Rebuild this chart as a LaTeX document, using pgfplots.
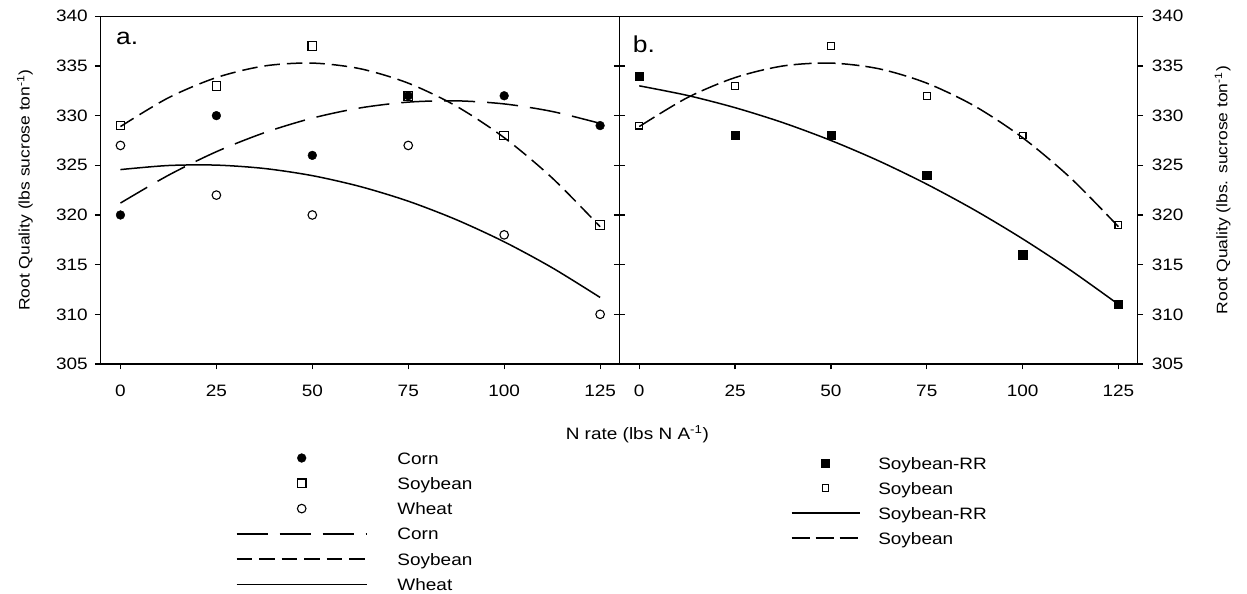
\documentclass[border=0pt]{standalone}
\usepackage{fontspec}
\setmainfont{Liberation Sans}[FakeStretch=1.15]
\usepackage{pgfplots}
\pgfplotsset{compat=1.18}
\newcommand\chartfont{\fontsize{16.5pt}{19pt}\selectfont}
\newcommand\ylabfont{\fontsize{15.2pt}{18pt}\selectfont}
\newcommand\panelfont{\fontsize{23pt}{26pt}\selectfont}
\pgfplotsset{
  base/.style={
    scale only axis, width=518.8pt, height=347.7pt,
    xmin=-5.2, xmax=130, ymin=305, ymax=340,
    xtick={0,25,50,75,100,125}, ytick={305,310,...,340},
    tick align=outside, major tick length=5.5pt,
    xtick pos=bottom,
    axis line style={line width=1.2pt},
    every tick/.style={line width=1.2pt, black},
    tick label style={font=\chartfont},
    label style={font=\chartfont},
    ylabel style={font=\ylabfont},
    /pgf/number format/assume math mode=true,
    xticklabel style={inner sep=0pt, yshift=-15pt},
    clip=false,
    legend cell align=left,
  },
  lw/.style={line width=1.5pt, smooth, no marks},
  lineA/.style={legend image code/.code={\draw[##1] (0pt,0pt) -- (130pt,0pt);}},
  markA/.style={legend image code/.code={\path[draw=none] (0pt,0pt) -- (130pt,0pt); \draw[##1] plot coordinates {(65pt,0pt)};}},
  lineB/.style={legend image code/.code={\draw[##1] (0pt,0pt) -- (68pt,0pt);}},
  markB/.style={legend image code/.code={\path[draw=none] (0pt,0pt) -- (68pt,0pt); \draw[##1] plot coordinates {(34pt,0pt)};}},
}
\begin{document}
\begin{tikzpicture}[x=1pt,y=1pt]
\useasboundingbox (0,0) rectangle (1247,594);
% ---------------- panel a ----------------
\begin{axis}[base, at={(100.5pt,230pt)}, anchor=south west,
  ytick pos=both, yticklabel pos=left,
  yticklabel style={inner sep=0pt, xshift=-7pt},
  ylabel={Root Quality (lbs sucrose ton\textsuperscript{-1})},
  ylabel style={at={(axis description cs:-0.1455,0.5)}, rotate=0, anchor=center},
  xlabel={N rate (lbs N A\textsuperscript{-1})},
  xlabel style={at={(axis description cs:1.0347,-0.2013)}, anchor=center},
  legend style={at={(axis description cs:0.2611,-0.2531)}, anchor=north west,
     draw=none, fill=none, inner sep=0pt, outer sep=0pt, row sep=13.3pt,
     nodes={inner sep=0pt, text height=12pt, text depth=0pt, font=\chartfont},
     /tikz/every odd column/.append style={column sep=30pt}},
]
\addplot[only marks, mark=*, mark size=4.4pt, black, markA] coordinates {
 (0,320) (25,330) (50,326) (75,332) (100,332) (125,329)};
\addlegendentry{Corn}
\addplot[only marks, mark=square, mark size=4.3pt, black, line width=1.1pt, markA] coordinates {
 (0,329) (25,333) (50,337) (75,332) (100,328) (125,319)};
\addlegendentry{Soybean}
\addplot[only marks, mark=o, mark size=4.3pt, black, line width=1.1pt, markA] coordinates {
 (0,327) (25,322) (50,320) (75,327) (100,318) (125,310)};
\addlegendentry{Wheat}
\addplot[lw, dash pattern=on 31pt off 12pt, lineA] coordinates {
 (0,321.2) (12.5,324.0) (25,326.37) (37.5,328.28) (50,329.75) (62.5,330.78)
 (75,331.36) (87.5,331.49) (100,331.18) (112.5,330.42) (125,329.22)};
\addlegendentry{Corn}
\addplot[lw, dash pattern=on 15.5pt off 7pt, lineA] coordinates {
 (0,328.9) (12.5,331.8) (25,333.83) (37.5,335.0) (50,335.29) (62.5,334.72)
 (75,333.27) (87.5,330.96) (100,327.78) (112.5,323.73) (125,318.82)};
\addlegendentry{Soybean}
\addplot[lw, lineA] coordinates {
 (0,324.57) (12.5,324.98) (25,325.02) (37.5,324.68) (50,323.96) (62.5,322.86)
 (75,321.39) (87.5,319.53) (100,317.30) (112.5,314.69) (125,311.70)};
\addlegendentry{Wheat}
\node[font=\panelfont, anchor=base west, inner sep=0pt] at (axis description cs:0.0299,0.9175) {a.};
\end{axis}
% ---------------- panel b ----------------
\begin{axis}[base, width=518.3pt, at={(619.3pt,230pt)}, anchor=south west,
  ytick pos=both, yticklabel pos=right,
  yticklabel style={inner sep=0pt, xshift=8.5pt},
  ylabel={Root Quality (lbs. sucrose ton\textsuperscript{-1})},
  ylabel style={at={(axis description cs:1.164,0.5)}, rotate=0, anchor=center},
  legend style={at={(axis description cs:0.3308,-0.2675)}, anchor=north west,
     draw=none, fill=none, inner sep=0pt, outer sep=0pt, row sep=13pt,
     nodes={inner sep=0pt, text height=12pt, text depth=0pt, font=\chartfont},
     /tikz/every odd column/.append style={column sep=18pt}},
]
\addplot[only marks, mark=square*, mark size=4.1pt, black, markB] coordinates {
 (0,334) (25,328) (50,328) (75,324) (100,316) (125,311)};
\addlegendentry{Soybean-RR}
\addplot[only marks, mark=square, mark size=3.4pt, black, line width=1.1pt, markB] coordinates {
 (0,329) (25,333) (50,337) (75,332) (100,328) (125,319)};
\addlegendentry{Soybean}
\addplot[lw, lineB] coordinates {
 (0,333.0) (12.5,332.04) (25,330.8) (37.5,329.29) (50,327.5) (62.5,325.44)
 (75,323.1) (87.5,320.49) (100,317.6) (112.5,314.44) (125,311.0)};
\addlegendentry{Soybean-RR}
\addplot[lw, dash pattern=on 18pt off 6pt, lineB] coordinates {
 (0,328.9) (12.5,331.8) (25,333.83) (37.5,335.0) (50,335.29) (62.5,334.72)
 (75,333.27) (87.5,330.96) (100,327.78) (112.5,323.73) (125,318.82)};
\addlegendentry{Soybean}
\node[font=\panelfont, anchor=base west, inner sep=0pt] at (axis description cs:0.026,0.8973) {b.};
\end{axis}
\end{tikzpicture}
\end{document}
